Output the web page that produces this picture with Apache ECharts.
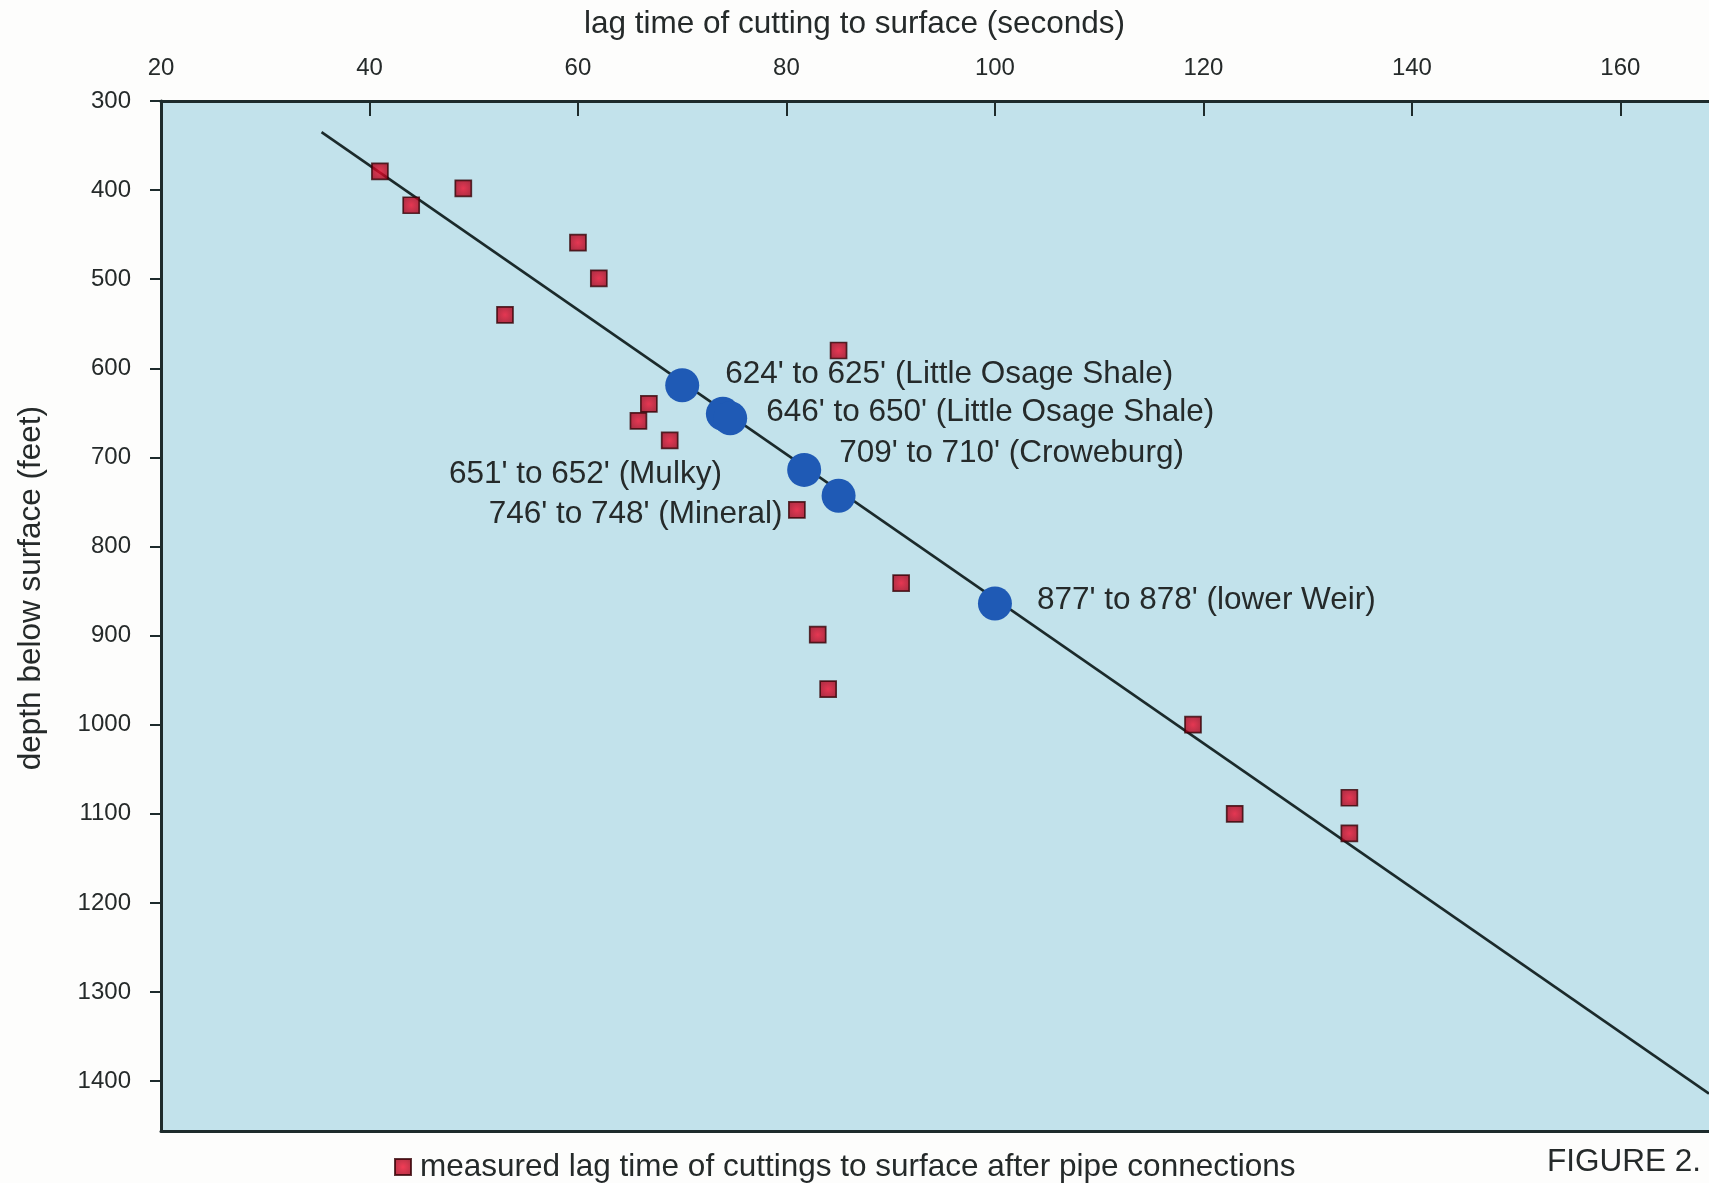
<!DOCTYPE html>
<html>
<head>
<meta charset="utf-8">
<script src="https://cdn.jsdelivr.net/npm/echarts@6/dist/echarts.min.js"></script>
<style>
html,body{margin:0;padding:0;background:#fdfdfc;}
#chart{width:1709px;height:1183px;}
</style>
</head>
<body>
<div id="chart"></div>
<script>
// ---- data ----
var xTicks = [20, 40, 60, 80, 100, 120, 140, 160];
var yTicks = [300, 400, 500, 600, 700, 800, 900, 1000, 1100, 1200, 1300, 1400];
var measuredLag = [41, 44, 49, 60, 62, 53, 85, 66.8, 65.8, 68.8, 81, 91, 83, 84, 119, 123, 134, 134];
var measuredDepth = [379, 417, 398, 459, 499, 540, 580, 640, 659, 681, 759, 841, 899, 960, 1000, 1100, 1082, 1122];
var markerNames = ["624' to 625' (Little Osage Shale)", "651' to 652' (Mulky)", "646' to 650' (Little Osage Shale)", "709' to 710' (Croweburg)", "746' to 748' (Mineral)", "877' to 878' (lower Weir)"];
var markerLag = [70.0, 73.9, 74.6, 81.7, 85.0, 100.0];
var markerDepth = [619, 651, 656, 714, 743, 864];
var fitLag = [35.4, 168.5];
var fitDepth = [335, 1414];

var FONT = '"Liberation Sans", Arial, Helvetica, sans-serif';
var TXT = '#252a2a';
var AX = '#1d2b2c';
var FS = 31.5;

// label placement per marker (style only)
var labelCfg = [
  {position: 'right', offset: [21, -11]},
  {position: 'left', offset: [21, 61]},
  {position: 'right', offset: [14, -6]},
  {position: 'right', offset: [13, -17]},
  {position: 'left', offset: [-34, 19]},
  {position: 'right', offset: [20, -3]}
];

var measuredData = measuredLag.map(function (x, i) { return [x, measuredDepth[i]]; });
var markerData = markerLag.map(function (x, i) {
  return {
    name: markerNames[i],
    value: [x, markerDepth[i]],
    label: {
      show: true,
      formatter: markerNames[i],
      position: labelCfg[i].position,
      offset: labelCfg[i].offset,
      fontSize: FS,
      fontFamily: FONT,
      color: TXT
    }
  };
});
var fitData = fitLag.map(function (x, i) { return [x, fitDepth[i]]; });

var chart = echarts.init(document.getElementById('chart'));
chart.setOption({
  backgroundColor: '#fdfdfc',
  animation: false,
  title: {
    text: 'lag time of cutting to surface (seconds)',
    left: 'center',
    top: 3,
    textStyle: {fontSize: FS, fontWeight: 'normal', color: TXT, fontFamily: FONT}
  },
  legend: {
    data: [{name: 'measured lag time of cuttings to surface after pipe connections', icon: 'rect'}],
    left: 389,
    top: 1146,
    itemWidth: 16,
    itemHeight: 16,
    textStyle: {fontSize: FS, color: TXT, fontFamily: FONT, padding: [0, 0, 0, 4]}
  },
  graphic: [
    {
      type: 'text',
      left: 15,
      top: 406,
      rotation: Math.PI / 2,
      style: {text: 'depth below surface (feet)', fontSize: FS, fill: TXT, fontFamily: FONT}
    },
    {
      type: 'text',
      right: 8,
      top: 1146,
      style: {text: 'FIGURE 2.', fontSize: FS, fill: TXT, fontFamily: FONT}
    }
  ],
  grid: {
    left: 161,
    top: 101,
    right: 0,
    bottom: 52,
    show: true,
    backgroundColor: '#c2e2eb',
    borderWidth: 0
  },
  xAxis: [
    {
      type: 'value',
      position: 'top',
      min: 20,
      max: 168.5,
      interval: 20,
      axisLine: {show: true, lineStyle: {color: AX, width: 3}},
      axisTick: {show: true, inside: true, length: 15, lineStyle: {color: AX, width: 2}},
      axisLabel: {show: true, margin: 21, fontSize: 24, color: TXT, fontFamily: FONT, showMaxLabel: false,
        formatter: function (v) { return String(v); }},
      splitLine: {show: false}
    },
    {
      type: 'value',
      position: 'bottom',
      min: 20,
      max: 168.5,
      interval: 20,
      axisLine: {show: true, lineStyle: {color: AX, width: 3}},
      axisTick: {show: false},
      axisLabel: {show: false},
      splitLine: {show: false}
    }
  ],
  yAxis: {
    type: 'value',
    inverse: true,
    min: 300,
    max: 1456,
    interval: 100,
    axisLine: {show: true, onZero: false, lineStyle: {color: AX, width: 3}},
    axisTick: {show: true, inside: false, length: 11, lineStyle: {color: AX, width: 2}},
    axisLabel: {show: true, margin: 30, fontSize: 24, color: TXT, fontFamily: FONT, showMaxLabel: false,
      formatter: function (v) { return String(v); }},
    splitLine: {show: false}
  },
  series: [
    {
      type: 'line',
      name: 'fit',
      data: fitData,
      showSymbol: false,
      symbol: 'none',
      lineStyle: {color: '#1b2a2b', width: 2.6},
      z: 2,
      silent: true
    },
    {
      type: 'scatter',
      name: 'measured lag time of cuttings to surface after pipe connections',
      data: measuredData,
      symbol: 'rect',
      symbolSize: 16,
      itemStyle: {
        color: {
          type: 'radial', x: 0.5, y: 0.5, r: 0.6,
          colorStops: [{offset: 0, color: '#ee0c2c'}, {offset: 1, color: '#a00018'}]
        },
        borderColor: '#360407',
        borderWidth: 1.7
      },
      z: 3
    },
    {
      type: 'scatter',
      name: 'formations',
      data: markerData,
      symbol: 'circle',
      symbolSize: 34,
      itemStyle: {color: '#1f5ab5', opacity: 1},
      z: 4
    }
  ]
});
</script>
</body>
</html>
